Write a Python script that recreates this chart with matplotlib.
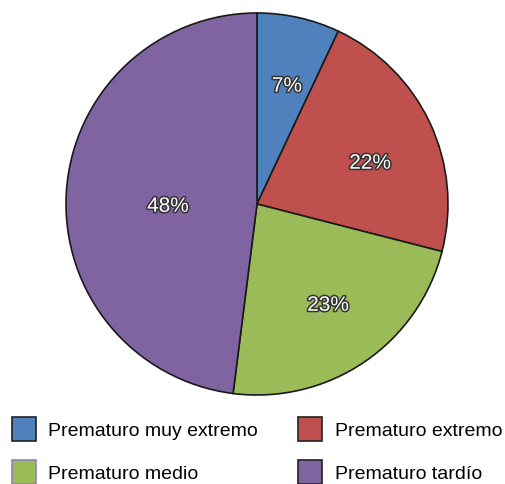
import matplotlib.pyplot as plt
import matplotlib.patheffects as pe
from matplotlib.patches import Patch
import numpy as np

plt.rcParams['font.family'] = ['Liberation Sans', 'DejaVu Sans']

categorias = ['Prematuro muy extremo', 'Prematuro extremo', 'Prematuro medio', 'Prematuro tardío']
porcentajes = [7, 22, 23, 48]
colores = ['#4f81bd', '#c0504d', '#9bbb59', '#8064a2']
bordes_leyenda = ['#222222', '#222222', '#9a7fc0', '#222222']
# distancia radial y giro (grados) de cada etiqueta respecto al centro de su cuña
dist_etiqueta = [0.658, 0.637, 0.63, 0.466]
giro_etiqueta = [-1.2, -3.5, 2.0, 2.4]

fig = plt.figure(figsize=(5.05, 4.85), dpi=100)
r = 191
ax = fig.add_axes([(257 - r) / 505, (280 - r) / 485, 2 * r / 505, 2 * r / 485])

wedges, _ = ax.pie(porcentajes, colors=colores, startangle=90, counterclock=False,
                   radius=1, wedgeprops=dict(edgecolor='#1a1a1a', linewidth=1.2))
ax.set_xlim(-1, 1)
ax.set_ylim(-1, 1)
ax.set_aspect('equal')
ax.axis('off')

contorno = [pe.withStroke(linewidth=2.2, foreground='#333333')]
for w, p, d, g in zip(wedges, porcentajes, dist_etiqueta, giro_etiqueta):
    ang = np.deg2rad((w.theta1 + w.theta2) / 2 + g)
    ax.annotate(f'{p}%', (d * np.cos(ang), d * np.sin(ang)), xytext=(0, -3),
                textcoords='offset points', ha='center', va='center',
                fontsize=15, color='white', path_effects=contorno)

handles = [Patch(facecolor=c, edgecolor=b, linewidth=1.2) for c, b in zip(colores, bordes_leyenda)]
# por filas: izquierda = muy extremo, medio; derecha = extremo, tardío
orden = [0, 2, 1, 3]
fig.legend([handles[i] for i in orden], [categorias[i] for i in orden],
           loc='upper left', bbox_to_anchor=(12 / 505, (485 - 418) / 485), ncol=2,
           frameon=False, fontsize=14.0, handlelength=1.22, handleheight=1.5,
           handletextpad=0.65, columnspacing=2.06, labelspacing=0.98,
           borderpad=0, borderaxespad=0)

fig.savefig('out.png', dpi=100)
